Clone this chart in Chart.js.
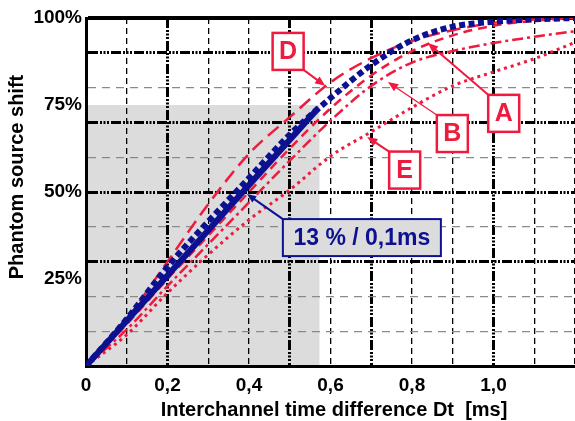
<!DOCTYPE html>
<html>
<head>
<meta charset="utf-8">
<script src="https://cdn.jsdelivr.net/npm/chart.js@4.4.0/dist/chart.umd.min.js"></script>
<style>
  html, body { margin: 0; padding: 0; background: #fff; }
  #wrap { width: 575px; height: 421px; }
</style>
</head>
<body>
<div id="wrap"><canvas id="shift_chart" width="575" height="421"></canvas></div>
<script>
// time grid (ms) shared by the measured curves
const dt = [0, 0.1, 0.2, 0.3, 0.4, 0.5, 0.6, 0.7, 0.8, 0.9, 1.0, 1.1, 1.2];

// phantom source shift in % for each curve
const shiftMean = [0, 13.5, 28.5, 41.5, 54, 66.5, 77, 86.5, 93.6, 97.5, 98.9, 99.6, 100];
const shiftD = [0, 13.5, 30, 46.5, 61, 71.5, 81.5, 88.5, 93.4, 96.5, 98.6, 99.6, 100];
const shiftA = [0, 12, 25, 37.5, 50, 62.5, 74, 83.5, 90.5, 95, 97.8, 99.2, 100];
const shiftB = [0, 10.5, 23, 35, 47, 59, 70.5, 80.5, 87.2, 90.5, 92.8, 94.6, 96.2];
const shiftE = [0, 9, 21, 32, 42, 50.6, 60.3, 67.3, 74.3, 80.5, 84.5, 88.3, 93];

// linear part: 13 % per 0,1 ms, up to the end of the shaded range
const slopePer01 = 13;
const linearRange = [0, 0.57];
const linearShift = linearRange.map(t => t * slopePer01 * 10);

// shaded linear region
const shadeMaxDt = 0.573;
const shadeMaxShift = 75;

// axis ticks
const xTicksLabelled = [0, 0.2, 0.4, 0.6, 0.8, 1.0];
const xTicksBold = [0.2, 0.5, 0.7, 1.0];
const yGrid = [0, 10, 20, 25, 30, 40, 50, 60, 70, 75, 80, 90, 100];
const yLabelled = [25, 50, 75, 100];
const yBold = [30, 50, 70, 90];

// callouts: box centre in data units, arrow tip in data units
const callouts = [
  { text: 'D', x: 0.496, y: 90.4, tipX: 0.587, tipY: 80.5, corner: 'br', lw: 2 },
  { text: 'A', x: 1.025, y: 72.6, tipX: 0.839, tipY: 92.8, corner: 'tl', lw: 2 },
  { text: 'B', x: 0.899, y: 66.8, tipX: 0.741, tipY: 81.6, corner: 'tl', lw: 1.3 },
  { text: 'E', x: 0.782, y: 56.3, tipX: 0.690, tipY: 65.8, corner: 'tl', lw: 2 }
];
const slopeNote = { text: '13 % / 0,1ms', x: 0.677, y: 36.9, tipX: 0.395, tipY: 49.4 };

const RED = '#ee1b3f';
const NAVY = '#0b1190';
const FONT = '"Liberation Sans", Arial, Helvetica, sans-serif';

const toXY = (xs, ys) => xs.map((v, i) => ({ x: v, y: ys[i] }));

const dashDot = [10, 2, 2, 1.5, 2, 1.5, 2, 2];

function arrow(ctx, x0, y0, x1, y1, color, width, head) {
  const ang = Math.atan2(y1 - y0, x1 - x0);
  ctx.strokeStyle = color;
  ctx.fillStyle = color;
  ctx.lineWidth = width;
  ctx.beginPath();
  ctx.moveTo(x0, y0);
  ctx.lineTo(x1 - head * 0.8 * Math.cos(ang), y1 - head * 0.8 * Math.sin(ang));
  ctx.stroke();
  ctx.beginPath();
  ctx.moveTo(x1, y1);
  ctx.lineTo(x1 - head * Math.cos(ang - 0.4), y1 - head * Math.sin(ang - 0.4));
  ctx.lineTo(x1 - head * Math.cos(ang + 0.4), y1 - head * Math.sin(ang + 0.4));
  ctx.closePath();
  ctx.fill();
}

const decorations = {
  id: 'decorations',
  beforeDraw(chart) {
    const { ctx, scales: { x, y } } = chart;
    const x0 = x.getPixelForValue(0), x1 = x.getPixelForValue(shadeMaxDt);
    const y0 = y.getPixelForValue(0), y1 = y.getPixelForValue(shadeMaxShift);
    ctx.save();
    ctx.fillStyle = '#dcdcdc';
    ctx.fillRect(x0, y1, x1 - x0, y0 - y1);
    ctx.restore();
  },
  afterDraw(chart) {
    const { ctx, scales: { x, y } } = chart;
    ctx.save();

    // red letter boxes
    const bw = 31, bh = 37;
    callouts.forEach(c => {
      const cx = x.getPixelForValue(c.x), cy = y.getPixelForValue(c.y);
      const sx = c.corner === 'br' ? cx + bw / 2 : cx - bw / 2;
      const sy = c.corner === 'br' ? cy + bh / 2 : cy - bh / 2;
      arrow(ctx, sx, sy, x.getPixelForValue(c.tipX), y.getPixelForValue(c.tipY), RED, c.lw, 11);
      ctx.fillStyle = '#fff';
      ctx.fillRect(cx - bw / 2, cy - bh / 2, bw, bh);
      ctx.strokeStyle = RED;
      ctx.lineWidth = 2.5;
      ctx.strokeRect(cx - bw / 2, cy - bh / 2, bw, bh);
      ctx.fillStyle = RED;
      ctx.font = 'bold 25px ' + FONT;
      ctx.textAlign = 'center';
      ctx.textBaseline = 'middle';
      ctx.fillText(c.text, cx, cy + 1);
    });

    // slope note
    const nw = 158, nh = 37;
    const nx = x.getPixelForValue(slopeNote.x), ny = y.getPixelForValue(slopeNote.y);
    arrow(ctx, nx - nw / 2, ny - nh / 2, x.getPixelForValue(slopeNote.tipX), y.getPixelForValue(slopeNote.tipY), NAVY, 2, 10);
    ctx.fillStyle = '#dcdcdc';
    ctx.fillRect(nx - nw / 2, ny - nh / 2, nw, nh);
    ctx.strokeStyle = NAVY;
    ctx.lineWidth = 2;
    ctx.strokeRect(nx - nw / 2, ny - nh / 2, nw, nh);
    ctx.fillStyle = NAVY;
    ctx.font = 'bold 23px ' + FONT;
    ctx.textAlign = 'center';
    ctx.textBaseline = 'middle';
    ctx.fillText(slopeNote.text, nx, ny + 1);

    // axis titles
    ctx.fillStyle = '#000';
    ctx.font = 'bold 20px ' + FONT;
    ctx.fillText('Interchannel time difference Dt  [ms]', 334, 410);
    ctx.translate(17, 177);
    ctx.rotate(-Math.PI / 2);
    ctx.fillText('Phantom source shift', 0, 0);
    ctx.restore();
  }
};

const near = (v, list) => list.some(t => Math.abs(t - v) < 1e-6);

const ctx = document.getElementById('shift_chart').getContext('2d');
const chart = new Chart(ctx, {
  type: 'line',
  data: {
    datasets: [
      {
        label: 'linear',
        data: toXY(linearRange, linearShift),
        borderColor: NAVY,
        borderWidth: 6,
        borderCapStyle: 'butt'
      },
      {
        label: 'mean',
        data: toXY(dt, shiftMean),
        borderColor: NAVY,
        borderWidth: 6,
        borderDash: [6, 3.5],
        cubicInterpolationMode: 'monotone'
      },
      {
        label: 'D',
        data: toXY(dt, shiftD),
        borderColor: RED,
        borderWidth: 2.5,
        borderDash: [14, 7],
        cubicInterpolationMode: 'monotone'
      },
      {
        label: 'A',
        data: toXY(dt, shiftA),
        borderColor: RED,
        borderWidth: 2.5,
        borderDash: [9, 6],
        cubicInterpolationMode: 'monotone'
      },
      {
        label: 'B',
        data: toXY(dt, shiftB),
        borderColor: RED,
        borderWidth: 2.5,
        borderDash: [11, 4, 3, 4],
        cubicInterpolationMode: 'monotone'
      },
      {
        label: 'E',
        data: toXY(dt, shiftE),
        borderColor: RED,
        borderWidth: 3,
        borderDash: [3, 4],
        cubicInterpolationMode: 'monotone'
      }
    ]
  },
  options: {
    responsive: false,
    animation: false,
    layout: { padding: { top: 18, right: 0, left: 0, bottom: 0 } },
    elements: { point: { radius: 0, hoverRadius: 0 } },
    plugins: {
      legend: { display: false },
      tooltip: { enabled: false }
    },
    scales: {
      x: {
        type: 'linear',
        min: 0,
        max: 1.2,
        afterFit(scale) {
          scale.height = 55;
          scale.paddingLeft = 0;
          scale.paddingRight = 0;
        },
        ticks: {
          stepSize: 0.1,
          autoSkip: false,
          maxRotation: 0,
          padding: 8,
          color: '#000',
          font: { family: FONT, size: 19, weight: 'bold' },
          callback(value) {
            if (!near(value, xTicksLabelled)) return '';
            return value === 0 ? '0' : value.toFixed(1).replace('.', ',');
          }
        },
        grid: {
          drawTicks: false,
          color: '#000',
          lineWidth: c => near(c.tick.value, xTicksBold) ? 3 : 1.3
        },
        border: {
          display: true,
          color: '#000',
          width: 3,
          dash: c => c.tick && near(c.tick.value, xTicksBold) ? dashDot : [6, 4]
        }
      },
      y: {
        min: 0,
        max: 100,
        afterFit(scale) { scale.width = 86; },
        afterBuildTicks(scale) { scale.ticks = yGrid.map(v => ({ value: v })); },
        ticks: {
          autoSkip: false,
          padding: 4,
          color: '#000',
          font: { family: FONT, size: 19, weight: 'bold' },
          callback(value) { return near(value, yLabelled) ? value + '%' : ''; }
        },
        grid: {
          drawTicks: false,
          color: c => {
            const v = c.tick.value;
            if (v === 25 || v === 75) return 'rgba(0,0,0,0)';
            if (v === 100 || near(v, yBold)) return '#000';
            return '#8a8a8a';
          },
          lineWidth: c => {
            const v = c.tick.value;
            if (v === 100) return 4;
            return near(v, yBold) ? 3 : 1.2;
          }
        },
        border: {
          display: true,
          color: '#000',
          width: 3,
          dash: c => {
            if (!c.tick) return [];
            const v = c.tick.value;
            if (v === 100) return [];
            return near(v, yBold) ? dashDot : [8, 6];
          }
        }
      }
    }
  },
  plugins: [decorations]
});
</script>
</body>
</html>
